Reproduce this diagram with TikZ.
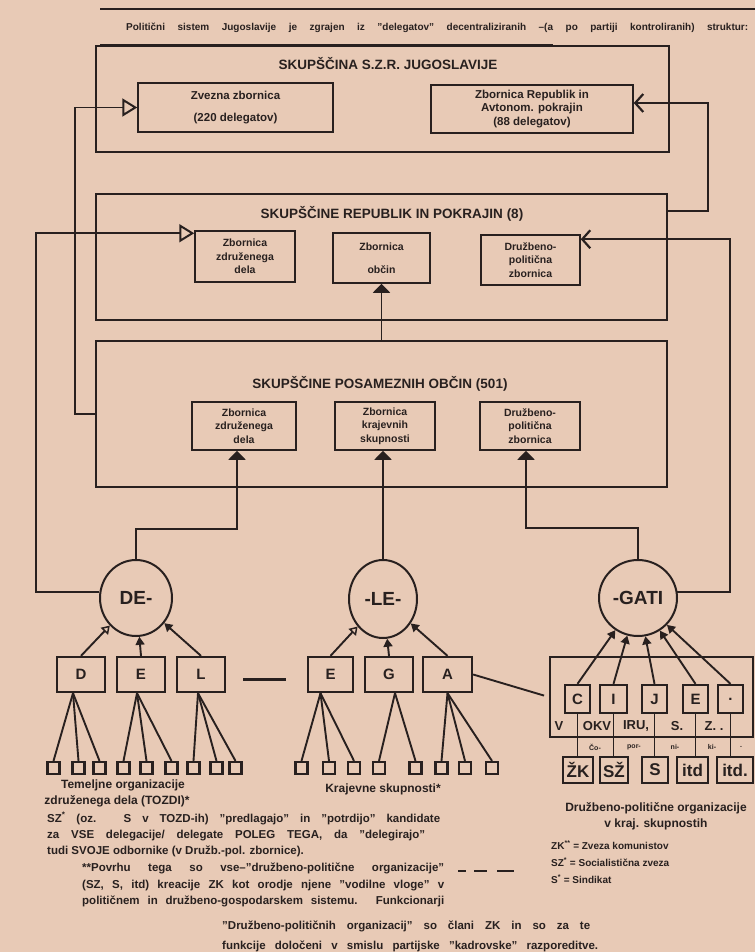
\documentclass[tikz,border=0pt]{standalone}
\usepackage{fontspec}
\setmainfont{Liberation Sans}
\usetikzlibrary{arrows.meta,calc,shapes.geometric}
\definecolor{paper}{RGB}{232,202,182}
\definecolor{ink}{RGB}{40,32,31}
\newcommand{\fsz}[2]{\fontsize{#1}{#2}\selectfont}
\tikzset{
  ln/.style={draw=ink, line width=1.9pt},
  frame/.style={draw=ink, line width=2.6pt, inner sep=0pt},
  inbox/.style={draw=ink, line width=1.5pt, inner sep=0pt, align=center, font=\bfseries\fsz{10.5}{13.5}},
  title/.style={font=\bfseries\fsz{13.5}{15}, inner sep=0pt},
  letter/.style={draw=ink, line width=2.3pt, inner sep=0pt, minimum height=35pt, font=\bfseries\fsz{15}{15}},
  rlet/.style={draw=ink, line width=2.3pt, inner sep=0pt, minimum height=28pt, font=\bfseries\fsz{15}{15}},
  blet/.style={draw=ink, line width=2.3pt, inner sep=0pt, minimum height=26pt, font=\bfseries\fsz{17}{17}},
  leaf/.style={draw=ink, line width=2.2pt, minimum size=12pt, inner sep=0pt},
  syl/.style={ellipse, draw=ink, line width=2pt, inner sep=0pt},
  syltxt/.style={font=\bfseries\fsz{19}{19}, inner sep=0pt},
  txt/.style={font=\bfseries\fsz{11.5}{13}, inner sep=0pt},
  lab/.style={font=\bfseries\fsz{12}{14}, inner sep=0pt},
  oarr/.style={-{Triangle[open, length=15pt, width=18pt, line width=2pt]}},
  barr/.style={-{Straight Barb[length=8pt, width=18pt, line width=2.2pt]}},
  farr/.style={-{Triangle[length=9pt, width=17pt]}},
  sfarr/.style={-{Triangle[length=8pt, width=9pt]}},
  soarr/.style={-{Triangle[open, length=8pt, width=10pt, line width=1.5pt]}},
}
\begin{document}
\begin{tikzpicture}[x=1pt, y=-1pt, every node/.style={text=ink}]
\fill[paper] (0,0) rectangle (755,952);
\useasboundingbox (0,0) rectangle (755,952);

% header
\draw[ink, line width=2.5pt] (100,9) -- (755,9);
\node[txt, anchor=base west, font=\bfseries\fsz{10}{11}] (hdr) at (126,31)
  {\makebox[622pt][s]{Politični sistem Jugoslavije je zgrajen iz ''delegatov'' decentraliziranih –(a po partiji kontroliranih) struktur:}};
\draw[ink, line width=2.5pt] (100,45) -- (553,45);

% top level
\node[frame, minimum width=573pt, minimum height=106pt] (SZR) at (382.5,99) {};
\node[title] (tSZR) at (388,64) {SKUPŠČINA S.Z.R. JUGOSLAVIJE};
\node[inbox, font=\bfseries\fsz{11.5}{13.5}, minimum width=195pt, minimum height=49pt] (ZZ) at (235.5,107.5) {Zvezna zbornica\\[8pt](220 delegatov)};
\node[inbox, font=\bfseries\fsz{11.5}{13.5}, minimum width=202pt, minimum height=48pt] (ZR) at (532,109) {Zbornica Republik in\\Avtonom. pokrajin\\(88 delegatov)};

% second level
\node[frame, minimum width=571pt, minimum height=126pt] (REP) at (381.5,257) {};
\node[title] (tREP) at (392,214) {SKUPŠČINE REPUBLIK IN POKRAJIN (8)};
\node[inbox, minimum width=100pt, minimum height=51pt] (RZD) at (245,256.5) {Zbornica\\združenega\\dela};
\node[inbox, minimum width=97pt, minimum height=50pt] (RZO) at (381.5,258) {Zbornica\\[9pt]občin};
\node[inbox, minimum width=99pt, minimum height=50pt] (RDP) at (530.5,260) {Družbeno-\\politična\\zbornica};

% third level
\node[frame, minimum width=571pt, minimum height=146pt] (OBC) at (381.5,414) {};
\node[title] (tOBC) at (380,384) {SKUPŠČINE POSAMEZNIH OBČIN (501)};
\node[inbox, minimum width=104pt, minimum height=48pt] (OZD) at (244,426) {Zbornica\\združenega\\dela};
\node[inbox, minimum width=100pt, minimum height=48pt] (OKS) at (385,426) {Zbornica\\krajevnih\\skupnosti};
\node[inbox, minimum width=100pt, minimum height=48pt] (ODP) at (530,426) {Družbeno-\\politična\\zbornica};

% syllable circles
\node[syl, minimum width=72pt, minimum height=76pt] (DE) at (136,598) {};
\node[syltxt] (tDE) at (DE) {DE-};
\node[syl, minimum width=68pt, minimum height=78pt] (LE) at (383,599) {};
\node[syltxt] (tLE) at (LE) {-LE-};
\node[syl, minimum width=78pt, minimum height=76pt] (GA) at (638,598) {};
\node[syltxt] (tGA) at (GA) {-GATI};

% connectors between levels
\draw[ln, oarr] (OBC.west) -- ++(-20,0) |- (ZZ.west);
\draw[ln, farr] (OBC.north -| RZO.south) -- (RZO.south);
\draw[ln, barr] ($(REP.north east)+(0,18)$) -| ($(ZR.east)+(74,-6)$) -- ($(ZR.east)+(0,-6)$);
\draw[ln, barr] (GA.9) -| ($(RDP.north east)+(149,5)$) -- ($(RDP.north east)+(0,5)$);
\draw[ln, oarr] (DE.171) -- ++(-63,0) |- ($(RZD.north west)+(0,3)$);
\draw[ln, farr] (DE.north) |- ($(OZD.south)+(-7,78)$) -- ($(OZD.south)+(-7,0)$);
\draw[ln, farr] (LE.north) -- (LE.north |- OKS.south);
\draw[ln, farr] (GA.north) |- ($(ODP.south)+(-4,77)$) -- ($(ODP.south)+(-4,0)$);

% letter boxes
\node[letter, minimum width=48pt] (D) at (81,674.5) {D};
\node[letter, minimum width=48pt] (E1) at (141,674.5) {E};
\node[letter, minimum width=48pt] (L) at (201,674.5) {L};
\node[letter, minimum width=45pt] (E2) at (330.5,674.5) {E};
\node[letter, minimum width=48pt] (G) at (389,674.5) {G};
\node[letter, minimum width=49pt] (A) at (447.5,674.5) {A};

\draw[ln, soarr] (D.north) -- (DE);
\draw[ln, sfarr] (E1.north) -- (DE);
\draw[ln, sfarr] (L.north) -- (DE);
\draw[ln, soarr] (E2.north) -- (LE);
\draw[ln, sfarr] (G.north) -- (LE);
\draw[ln, sfarr] (A.north) -- (LE);

\draw[ln, line width=2.8pt, shorten <=17pt, shorten >=21pt] ($(L.east)+(0,5)$) -- ($(E2.west)+(0,5)$);

% leaves
\foreach \n/\x in {1/53.5, 2/78.5, 3/99.5, 4/123.5, 5/146.5, 6/171.5, 7/193.5, 8/216.5, 9/235.5}
  \node[leaf] (l\n) at (\x,768) {};
\foreach \n/\x in {1/301.5, 2/329, 3/354, 4/379, 5/415.5, 6/441.5, 7/465, 8/492}
  \node[leaf] (r\n) at (\x,768) {};
\coordinate (aD) at ($(D.south)+(-8,0)$);
\coordinate (aE) at ($(E1.south)+(-4,0)$);
\coordinate (aL) at ($(L.south)+(-3,0)$);
\coordinate (aE2) at ($(E2.south)+(-10,0)$);
\coordinate (aG) at ($(G.south)+(6,0)$);
\coordinate (aA) at ($(A.south)+(0,0)$);
\foreach \n in {1,2,3} \draw[ln] (aD) -- (l\n.north);
\foreach \n in {4,5,6} \draw[ln] (aE) -- (l\n.north);
\foreach \n in {7,8,9} \draw[ln] (aL) -- (l\n.north);
\foreach \n in {1,2,3} \draw[ln] (aE2) -- (r\n.north);
\foreach \n in {4,5} \draw[ln] (aG) -- (r\n.north);
\foreach \n in {6,7,8} \draw[ln] (aA) -- (r\n.north);

% right group
\node[draw=ink, line width=2.3pt, minimum width=203pt, minimum height=80pt, inner sep=0pt] (FR) at (651.5,697) {};
\draw[ln, shorten >=5pt] (A.east) -- (FR.west);
\node[rlet, minimum width=25pt, fill=paper] (C) at (577.5,699) {C};
\node[rlet, minimum width=27pt, fill=paper] (I) at (613.5,699) {I};
\node[rlet, minimum width=25pt, fill=paper] (J) at (654.5,699) {J};
\node[rlet, minimum width=25pt, fill=paper] (E3) at (695.5,699) {E};
\node[rlet, minimum width=25pt, fill=paper] (P) at (730.5,699) {.};
\foreach \b in {C,I,J,E3,P} \draw[ln, sfarr] (\b.north) -- (GA);

\node[blet, minimum width=30pt] (ZKb) at (578,770) {ŽK};
\node[blet, minimum width=28pt] (SZb) at (614,770) {SŽ};
\node[blet, minimum width=26pt] (Sb) at (655,770) {S};
\node[blet, minimum width=31pt] (IT1) at (692.5,770) {itd};
\node[blet, minimum width=36pt] (IT2) at (735,770) {itd.};
\draw[ln] (C.south) -- (C.south |- ZKb.north);
\draw[ln] (I.south) -- (I.south |- SZb.north);
\draw[ln] (J.south) -- (J.south |- Sb.north);
\draw[ln] (E3.south) -- (E3.south |- IT1.north);
\draw[ln] (P.south) -- (P.south |- IT2.north);

\begin{scope}[every node/.style={text=ink, font=\bfseries\fsz{13}{13}, inner sep=0pt}]
\node (w1) at (559,726) {V};
\node (w2) at (597,726) {OKV};
\node (w3) at (636,726) {IRU,};
\node (w4) at (677,726) {S.};
\node (w5) at (714,726) {Z. .};
\end{scope}
\begin{scope}[every node/.style={text=ink, font=\bfseries\fsz{7}{7}, inner sep=0pt}]
\node (c1) at (595,747) {Čo-};
\node (c2) at (634,747) {por-};
\node (c3) at (675,747) {ni-};
\node (c4) at (712,747) {ki-};
\node (c5) at (741,747) {.};
\end{scope}

% labels
\node[lab] (lab1) at (123,785) {Temeljne organizacije};
\node[lab] (lab2) at (117,801) {združenega dela (TOZDI)*};
\node[lab] (lab3) at (383,789) {Krajevne skupnosti*};
\node[lab] (lab4) at (656,808) {Družbeno-politične organizacije};
\node[lab] (lab5) at (656,824) {v kraj. skupnostih};
\node[txt, font=\bfseries\fsz{10}{12}, anchor=west] (lg1) at (551,845) {ZK\textsuperscript{**} = Zveza komunistov};
\node[txt, font=\bfseries\fsz{10}{12}, anchor=west] (lg2) at (551,862) {SZ\textsuperscript{*} = Socialistična zveza};
\node[txt, font=\bfseries\fsz{10}{12}, anchor=west] (lg3) at (551,879) {S\textsuperscript{*} = Sindikat};

% footnote
\node[txt, anchor=base west] (f1) at (47,822) {\makebox[393pt][s]{SZ\textsuperscript{*} (oz. S v TOZD-ih) ''predlagajo'' in ''potrdijo'' kandidate}};
\node[txt, anchor=base west] (f2) at (47,838) {\makebox[378pt][s]{za VSE delegacije/ delegate POLEG TEGA, da ''delegirajo''}};
\node[txt, anchor=base west] (f3) at (47,854) {tudi SVOJE odbornike (v Družb.-pol. zbornice).};
\node[txt, anchor=base west] (f4) at (82,871) {\makebox[362pt][s]{**Povrhu tega so vse–''družbeno-politične organizacije''}};
\draw[ink, line width=1.2pt] (458,871) -- (466,871) (474,871) -- (487,871) (497,871) -- (514,871);
\node[txt, anchor=base west] (f5) at (82,888) {\makebox[362pt][s]{(SZ, S, itd) kreacije ZK kot orodje njene ''vodilne vloge'' v}};
\node[txt, anchor=base west] (f6) at (82,904) {\makebox[362pt][s]{političnem in družbeno-gospodarskem sistemu. Funkcionarji}};
\node[txt, anchor=base west] (f7) at (222,929) {\makebox[368pt][s]{''Družbeno-političnih organizacij'' so člani ZK in so za te}};
\node[txt, anchor=base west] (f8) at (222,949) {\makebox[376pt][s]{funkcije določeni v smislu partijske ''kadrovske'' razporeditve.}};
\end{tikzpicture}
\end{document}
